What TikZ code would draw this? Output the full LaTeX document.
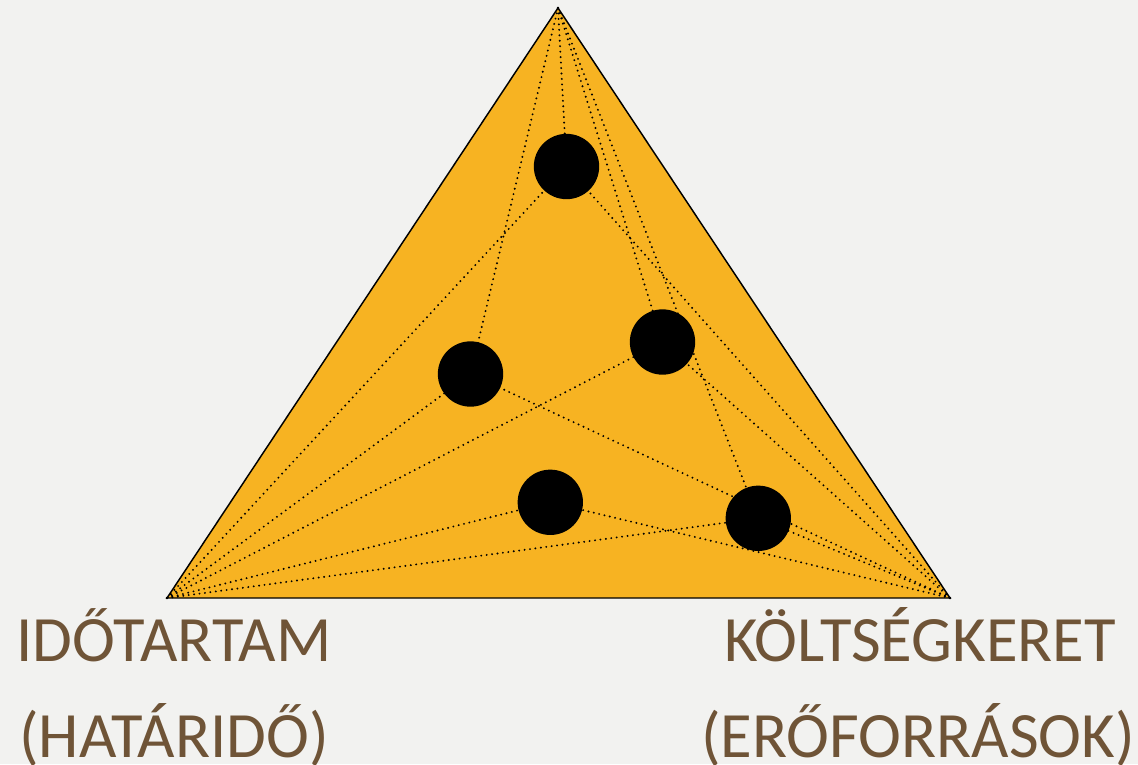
\documentclass[tikz,border=0pt]{standalone}
\usepackage{fontspec}
\setmainfont{Carlito}
\definecolor{bgc}{HTML}{F2F2F0}
\definecolor{tri}{HTML}{F7B322}
\definecolor{txt}{HTML}{6F5437}
\begin{document}
\begin{tikzpicture}[x=0.75pt,y=-0.75pt,
  link/.style={line width=1.6pt,dash pattern=on 0pt off 4.1pt,line cap=round,black},
  ball/.style={circle,fill=black,draw=none,minimum size=49pt,inner sep=0pt},
  lbl/.style={anchor=base,text=txt,font=\fontsize{48.5}{58}\selectfont,inner sep=0pt}]
\fill[bgc] (0,0) rectangle (1138,764);
\useasboundingbox (0,0) rectangle (1138,764);
\coordinate (T) at (558,8);
\coordinate (L) at (167,598);
\coordinate (R) at (950,598);
\filldraw[fill=tri,draw=black,line width=1.1pt,line join=miter] (T) -- (L) -- (R) -- cycle;
\coordinate (c1) at (566.5,166.5);
\coordinate (c2) at (470.5,374);
\coordinate (c3) at (662.5,342);
\coordinate (c4) at (550.3,502.3);
\coordinate (c5) at (758.3,518.3);
\foreach \c in {c1,c2,c3,c5} \draw[link] (T) -- (\c);
\foreach \c in {c1,c2,c3,c4,c5} {\draw[link] (L) -- (\c); \draw[link] (R) -- (\c);}
\node[ball] (b1) at (c1) {};
\node[ball] (b2) at (c2) {};
\node[ball] (b3) at (c3) {};
\node[ball] (b4) at (c4) {};
\node[ball] (b5) at (c5) {};
\node[lbl] (t1) at (174,661) {IDŐTARTAM};
\node[lbl] (t2) at (174,757) {(HATÁRIDŐ)};
\node[lbl] (t3) at (920,661) {KÖLTSÉGKERET};
\node[lbl] (t4) at (918,757) {(ERŐFORRÁSOK)};
\end{tikzpicture}
\end{document}
